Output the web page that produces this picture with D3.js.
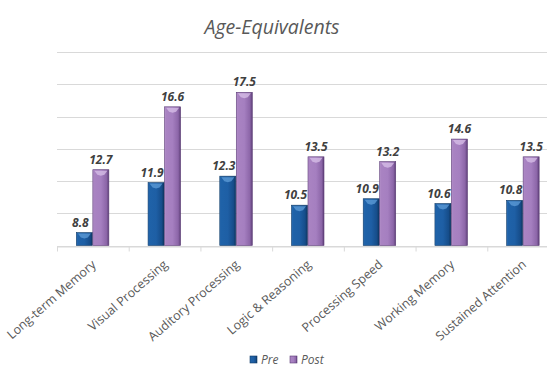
<!DOCTYPE html>
<html><head><meta charset="utf-8">
<script src="https://d3js.org/d3.v7.min.js"></script>
<style>body{margin:0;background:#fff;overflow:hidden}</style>
</head><body>
<script>
const categories = ["Long-term Memory","Visual Processing","Auditory Processing","Logic & Reasoning","Processing Speed","Working Memory","Sustained Attention"];
const seriesNames = ["Pre","Post"];
const preValues = [8.8, 11.9, 12.3, 10.5, 10.9, 10.6, 10.8];
const postValues = [12.7, 16.6, 17.5, 13.5, 13.2, 14.6, 13.5];
const yTicks = [8,10,12,14,16,18,20];

const W = 547, H = 367;
const svg = d3.select("body").append("svg").attr("width", W).attr("height", H);
const defs = svg.append("defs");
function grad(id, stops){
  const g = defs.append("linearGradient").attr("id", id).attr("x1","0").attr("x2","1").attr("y1","0").attr("y2","0");
  stops.forEach(s => g.append("stop").attr("offset", s[0]).attr("stop-color", s[1]));
}
grad("gPre", [[0,"#2a6db5"],[0.1,"#1f62a8"],[0.5,"#1e5fa5"],[0.85,"#164d8a"],[1,"#0e355f"]]);
grad("gPost", [[0,"#b592cb"],[0.1,"#a983c2"],[0.5,"#a57fc0"],[0.85,"#8c66a8"],[1,"#5e3f78"]]);

const x0 = d3.scaleBand().domain(categories).range([57, 559]);
const x1 = d3.scaleBand().domain(seriesNames).range([0, 33]);
const y = d3.scaleLinear().domain([8, 20]).range([245.5, 52]);

svg.append("g").selectAll("line").data(yTicks).join("line")
  .attr("x1", 57).attr("x2", W).attr("y1", d => Math.round(y(d))+0.5).attr("y2", d => Math.round(y(d))+0.5)
  .attr("stroke", "#d9d9d9").attr("stroke-width", 1);

const xAxis = svg.append("g").attr("transform", `translate(0,${Math.round(y(8))+0.5})`)
  .call(d3.axisBottom(x0).tickSize(0).tickPadding(10));
xAxis.select(".domain").attr("stroke", "#d9d9d9");
svg.append("g").selectAll("line").data(categories).join("line")
  .attr("x1", d => x0(d)+0.5).attr("x2", d => x0(d)+0.5)
  .attr("y1", Math.round(y(8))+0.5).attr("y2", Math.round(y(8))+5.5)
  .attr("stroke", "#d9d9d9");
xAxis.selectAll(".tick text")
  .attr("font-family", "'Open Sans', sans-serif").attr("font-size", 12.5).attr("fill", "#595959")
  .attr("text-anchor", "end")
  .attr("dy", "0.35em")
  .attr("transform", "translate(1,16) rotate(-41)")
  .attr("x", 0).attr("y", 0);

const pairs = categories.map((c, i) => ({c, vals: [{s:"Pre", v: preValues[i]}, {s:"Post", v: postValues[i]}]}));
const g = svg.append("g").selectAll("g").data(pairs).join("g")
  .attr("transform", d => `translate(${x0(d.c) + (x0.bandwidth()-33)/2},0)`);

const bw = x1.bandwidth() - 0.5;
g.selectAll("rect.bar").data(d => d.vals).join("rect").attr("class","bar")
  .attr("x", d => x1(d.s)).attr("width", bw)
  .attr("y", d => y(d.v)).attr("height", d => y(8) - y(d.v))
  .attr("fill", d => d.s === "Pre" ? "url(#gPre)" : "url(#gPost)")
  .attr("stroke", d => d.s === "Pre" ? "#0f3a66" : "#5a3b75").attr("stroke-width", 0.6);
g.selectAll("path.hl").data(d => d.vals).join("path").attr("class","hl")
  .attr("d", d => {
    const xl = x1(d.s) + 1.5, xr = x1(d.s) + bw - 1.5, yt = y(d.v) + 1, xm = (xl+xr)/2;
    return `M${xl},${yt} L${xr},${yt} L${xr-3},${yt+4} L${xm},${yt+5} L${xl+3},${yt+4} Z`;
  })
  .attr("fill", d => d.s === "Pre" ? "#5b9ad6" : "#d6bde6").attr("opacity", 0.8);

g.selectAll("text.val").data(d => d.vals).join("text").attr("class","val")
  .attr("x", d => x1(d.s) + bw/2 - (d.s === "Pre" ? 4 : 0)).attr("y", d => y(d.v) - 6)
  .attr("text-anchor", "middle")
  .attr("font-family", "'Open Sans', sans-serif").attr("font-size", 12).attr("font-weight", "bold").attr("font-style", "italic")
  .attr("fill", "#404040")
  .text(d => d.v.toFixed(1));

svg.append("text").attr("x", 272).attr("y", 34).attr("text-anchor", "middle")
  .attr("font-family", "'Open Sans', sans-serif").attr("font-size", 19.5).attr("font-style", "italic")
  .attr("fill", "#595959").text("Age-Equivalents");

const leg = svg.append("g").attr("transform", "translate(250,356)");
const legItems = leg.selectAll("g").data(seriesNames).join("g")
  .attr("transform", (d, i) => `translate(${i*40},0)`);
legItems.append("rect").attr("width", 7).attr("height", 7).attr("y", 0)
  .attr("fill", d => d === "Pre" ? "url(#gPre)" : "url(#gPost)")
  .attr("stroke", d => d === "Pre" ? "#0f3a66" : "#5a3b75").attr("stroke-width", 0.6);
legItems.append("text").attr("x", 11).attr("y", 7.5)
  .attr("font-family", "'Open Sans', sans-serif").attr("font-size", 12).attr("font-style", "italic")
  .attr("fill", "#595959").text(d => d);
</script>
</body></html>
